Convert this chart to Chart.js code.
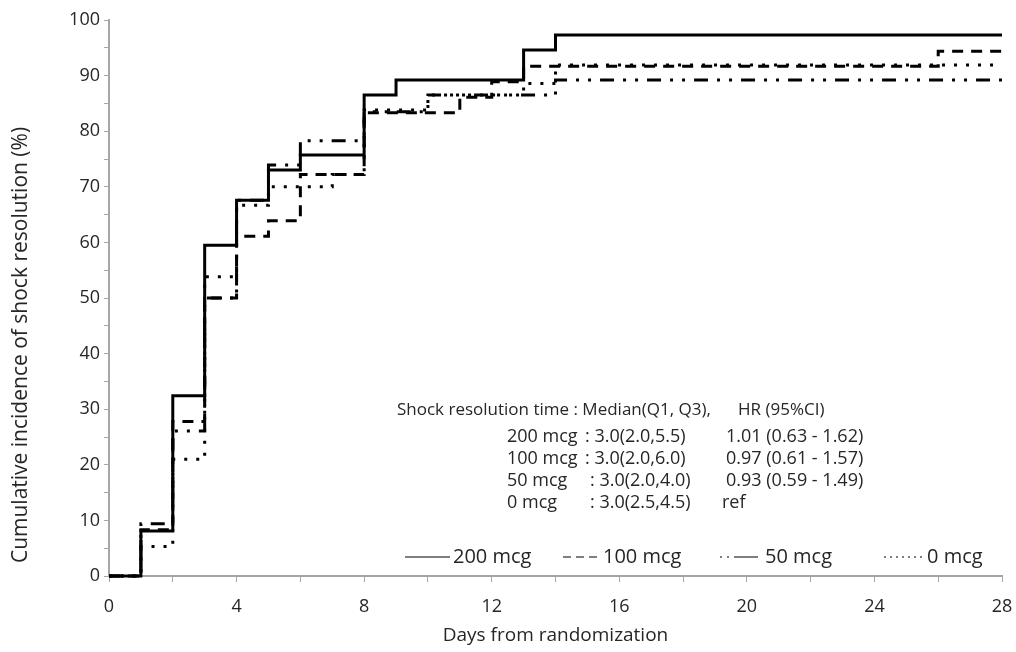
<!DOCTYPE html>
<html>
<head>
<meta charset="utf-8">
<script src="https://cdn.jsdelivr.net/npm/chart.js@4.4.0/dist/chart.umd.min.js"></script>
<style>
  html, body { margin: 0; padding: 0; background: #fff; }
  #wrap { width: 1016px; height: 652px; }
</style>
</head>
<body>
<div id="wrap"><canvas id="kmChart" width="1016" height="652"></canvas></div>
<script>
// Step curves: day of each jump and cumulative incidence (%) after it
const days200 = [0, 1, 2, 3, 4, 5, 6, 8, 9, 13, 14, 28];
const inc200 = [0, 8.1, 32.4, 59.5, 67.6, 73.0, 75.7, 86.5, 89.2, 94.6, 97.3, 97.3];

const days100 = [0, 1, 2, 3, 4, 5, 6, 8, 11, 12, 13, 26, 28];
const inc100 = [0, 8.3, 27.8, 50.0, 61.1, 63.9, 72.2, 83.3, 86.1, 88.9, 91.7, 94.4, 94.4];

const days50 = [0, 1, 2, 3, 4, 5, 6, 8, 10, 14, 28];
const inc50 = [0, 9.4, 26.1, 50.0, 67.6, 73.9, 78.3, 83.5, 86.5, 89.2, 89.2];

const days0 = [0, 1, 2, 3, 4, 5, 7, 8, 10, 13, 14, 28];
const inc0 = [0, 5.3, 21.0, 53.8, 66.7, 70.0, 72.2, 83.8, 86.5, 88.6, 91.9, 91.9];

const groupLabels = ["200 mcg", "100 mcg", "50 mcg", "0 mcg"];

// summary table in the plot
const tableHeadLeft = "Shock resolution time : Median(Q1, Q3),";
const tableHeadRight = "HR (95%CI)";
const tableMedian = [": 3.0(2.0,5.5)", ": 3.0(2.0,6.0)", ": 3.0(2.0,4.0)", ": 3.0(2.5,4.5)"];
const tableHR = ["1.01 (0.63 - 1.62)", "0.97 (0.61 - 1.57)", "0.93 (0.59 - 1.49)", "ref"];

const yTitle = "Cumulative incidence of shock resolution (%)";
const xTitle = "Days from randomization";

const FONT = "'Open Sans', sans-serif";
const AXIS_GREY = "#a6a6a6";
Chart.defaults.font.family = FONT;
Chart.defaults.color = "#262626";

const dashes = [[], [11, 8], [14, 9, 3, 9, 3, 9], [3, 9]];

const toPoints = (days, inc) => days.map((d, i) => ({ x: d, y: inc[i] }));

const series = [
  toPoints(days200, inc200),
  toPoints(days100, inc100),
  toPoints(days50, inc50),
  toPoints(days0, inc0),
];

const datasets = series.map((pts, i) => ({
  label: groupLabels[i],
  data: pts,
  stepped: "before",
  borderColor: "#000",
  borderWidth: 3,
  borderDash: dashes[i],
  borderCapStyle: "butt",
  pointRadius: 0,
  fill: false,
  clip: false,
}));

// y title, legend and summary table drawn on the plot
const annotations = {
  id: "annotations",
  afterDatasetsDraw(chart) {
    const ctx = chart.ctx;
    ctx.save();
    ctx.fillStyle = "#262626";
    ctx.textBaseline = "middle";

    // y axis title (sits lower than centred in the original)
    ctx.save();
    ctx.translate(21, 345);
    ctx.rotate(-Math.PI / 2);
    ctx.textAlign = "center";
    ctx.font = "21px " + FONT;
    ctx.fillText(yTitle, 0, 0);
    ctx.restore();

    ctx.font = "17px " + FONT;
    ctx.fillText(tableHeadLeft, 397, 410);
    ctx.fillText(tableHeadRight, 738, 410);
    ctx.font = "18px " + FONT;
    const rowY = [437, 459, 481, 503];
    const medX = [585, 585, 590, 590];
    groupLabels.forEach((g, i) => {
      ctx.fillText(g, 507, rowY[i]);
      ctx.fillText(tableMedian[i], medX[i], rowY[i]);
      ctx.fillText(tableHR[i], i === 3 ? 722 : 726, rowY[i]);
    });

    // legend
    const items = [
      { x: 405, w: 45, tx: 453 },
      { x: 563, w: 38, tx: 603 },
      { x: 720, w: 42, tx: 765 },
      { x: 884, w: 41, tx: 927 },
    ];
    const legendDash = [[], [8, 5], [2, 5, 2, 5, 22, 0], [2, 4]];
    ctx.font = "20px " + FONT;
    items.forEach((it, i) => {
      ctx.beginPath();
      ctx.strokeStyle = "#000";
      ctx.lineWidth = 1.2;
      ctx.setLineDash(legendDash[i]);
      ctx.moveTo(it.x, 557);
      ctx.lineTo(it.x + it.w, 557);
      ctx.stroke();
      ctx.fillText(groupLabels[i], it.tx, 557);
    });
    ctx.restore();
  },
};

new Chart(document.getElementById("kmChart"), {
  type: "line",
  data: { datasets: datasets },
  options: {
    responsive: false,
    animation: false,
    layout: { padding: { top: 20, right: 14, left: 0, bottom: 0 } },
    plugins: { legend: { display: false }, tooltip: { enabled: false } },
    scales: {
      x: {
        type: "linear",
        min: 0,
        max: 28,
        afterFit(scale) {
          scale.height = 76;
          scale.paddingLeft = 0;
          scale.paddingRight = 0;
        },
        ticks: {
          stepSize: 2,
          autoSkip: false,
          maxRotation: 0,
          padding: 14,
          font: { size: 18 },
          callback: (v) => (v % 4 === 0 ? v : ""),
        },
        grid: { drawOnChartArea: false, color: AXIS_GREY, tickLength: 6 },
        border: { color: AXIS_GREY, width: 2 },
        title: {
          display: true,
          text: xTitle,
          font: { size: 19 },
          padding: { top: 0, bottom: 5 },
        },
      },
      y: {
        min: 0,
        max: 100,
        afterFit(scale) { scale.width = 109; },
        ticks: {
          stepSize: 5,
          autoSkip: false,
          padding: 4,
          font: { size: 18 },
          callback: (v) => (v % 10 === 0 ? v : ""),
        },
        grid: { drawOnChartArea: false, color: AXIS_GREY, tickLength: 5 },
        border: { color: AXIS_GREY, width: 2 },
      },
    },
  },
  plugins: [annotations],
});
</script>
</body>
</html>
